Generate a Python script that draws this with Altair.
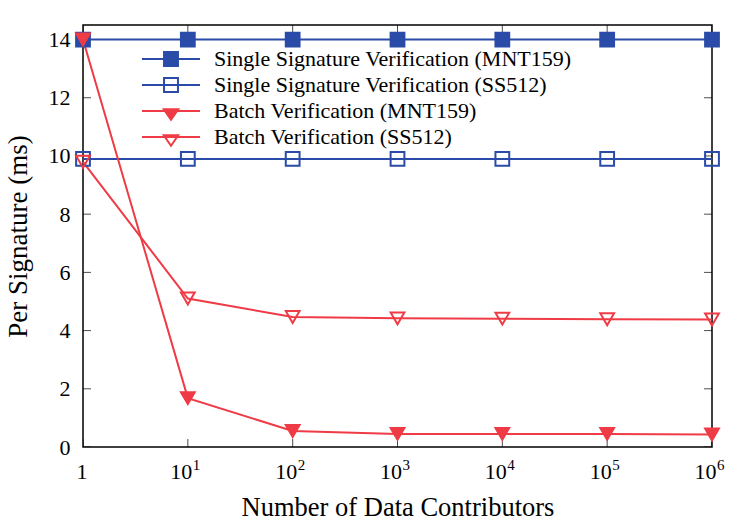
import altair as alt
import pandas as pd

# ---- data ----
x_vals = [1, 10, 100, 1000, 10000, 100000, 1000000]
single_mnt159 = [14.0, 14.0, 14.0, 14.0, 14.0, 14.0, 14.0]
single_ss512 = [9.9, 9.9, 9.9, 9.9, 9.9, 9.9, 9.9]
batch_mnt159 = [14.0, 1.68, 0.55, 0.45, 0.45, 0.45, 0.43]
batch_ss512 = [9.8, 5.1, 4.47, 4.42, 4.41, 4.39, 4.38]
series_names = [
    "Single Signature Verification (MNT159)",
    "Single Signature Verification (SS512)",
    "Batch Verification (MNT159)",
    "Batch Verification (SS512)",
]
y_ticks = [0, 2, 4, 6, 8, 10, 12, 14]
x_ticks = [1, 10, 100, 1000, 10000, 100000, 1000000]
exp_ticks = [10, 100, 1000, 10000, 100000, 1000000]
exp_labels = ["1", "2", "3", "4", "5", "6"]

rows = []
for name, vals in zip(series_names, [single_mnt159, single_ss512, batch_mnt159, batch_ss512]):
    for xv, yv in zip(x_vals, vals):
        rows.append({"series": name, "x": xv, "y": yv})
df = pd.DataFrame(rows)
ytick_df = pd.DataFrame({"v": y_ticks})
xtick_df = pd.DataFrame({"v": x_ticks})
exp_df = pd.DataFrame({"v": exp_ticks, "e": exp_labels})

BLUE = "#2a4ba7"
RED = "#ef3b45"
FONT = "Liberation Serif"
line_colors = [BLUE, BLUE, RED, RED]
fill_colors = [BLUE, "transparent", RED, "transparent"]
plot_shapes = ["square", "square", "triangle-down", "triangle-down"]
SQ = "M-1,0H1M-0.24,-0.24H0.24V0.24H-0.24Z"
TR = "M-1,0H1M-0.25,-0.06H0.25L0,0.3Z"
legend_shapes = [SQ, SQ, TR, TR]

x_scale = alt.Scale(type="log", domain=[1, 1000000])
y_scale = alt.Scale(domain=[0, 14.5], nice=False, zero=False)

x_enc = alt.X(
    "x:Q",
    scale=x_scale,
    axis=alt.Axis(
        values=x_ticks,
        labelExpr="datum.value == 1 ? '1' : '10'",
        title="Number of Data Contributors",
        grid=False, ticks=False, domain=False,
        labelFont=FONT, labelFontSize=22, labelColor="black",
        labelPadding=14, labelFlush=False, labelOverlap=False,
        labelAlign="right", labelOffset=4,
        titleFont=FONT, titleFontSize=26.5, titleFontWeight="normal",
        titleColor="black", titlePadding=12,
    ),
)
y_enc = alt.Y(
    "y:Q",
    scale=y_scale,
    axis=alt.Axis(
        values=y_ticks,
        title="Per Signature (ms)",
        grid=False, ticks=False, domain=False,
        labelFont=FONT, labelFontSize=22, labelColor="black",
        labelPadding=13, labelFlush=False,
        titleFont=FONT, titleFontSize=27, titleFontWeight="normal",
        titleColor="black", titlePadding=16, titleLimit=0,
    ),
)

lines = alt.Chart(df).mark_line(strokeWidth=2).encode(
    x=x_enc,
    y=y_enc,
    color=alt.Color("series:N", scale=alt.Scale(domain=series_names, range=line_colors), legend=None),
    detail="series:N",
)

points = alt.Chart(df).mark_point(size=190, strokeWidth=2, opacity=1).encode(
    x="x:Q",
    y="y:Q",
    shape=alt.Shape("series:N", scale=alt.Scale(domain=series_names, range=plot_shapes), legend=None),
    stroke=alt.Stroke("series:N", scale=alt.Scale(domain=series_names, range=line_colors), legend=None),
    fill=alt.Fill("series:N", scale=alt.Scale(domain=series_names, range=fill_colors), legend=None),
)

leg = alt.Legend(
    title=None, orient="none", legendX=58, legendY=21,
    labelFont=FONT, labelFontSize=22, labelColor="black", labelLimit=0,
    symbolSize=3364, symbolStrokeWidth=2, symbolOpacity=1,
    clipHeight=26, rowPadding=0, labelOffset=13, padding=0,
)
legend_layer = alt.Chart(df).mark_point(opacity=0, strokeWidth=2).encode(
    x="x:Q",
    y="y:Q",
    shape=alt.Shape("series:N", scale=alt.Scale(domain=series_names, range=legend_shapes), legend=leg),
    stroke=alt.Stroke("series:N", scale=alt.Scale(domain=series_names, range=line_colors), legend=leg),
    fill=alt.Fill("series:N", scale=alt.Scale(domain=series_names, range=fill_colors), legend=leg),
)

tick_left = alt.Chart(ytick_df).mark_tick(orient="horizontal", size=16, thickness=1, color="black", clip=True).encode(
    x=alt.datum(1), y="v:Q")
tick_right = alt.Chart(ytick_df).mark_tick(orient="horizontal", size=16, thickness=1, color="black", clip=True).encode(
    x=alt.datum(1000000), y="v:Q")
tick_bottom = alt.Chart(xtick_df).mark_tick(orient="vertical", size=16, thickness=1, color="black", clip=True).encode(
    x="v:Q", y=alt.datum(0))
tick_top = alt.Chart(xtick_df).mark_tick(orient="vertical", size=16, thickness=1, color="black", clip=True).encode(
    x="v:Q", y=alt.datum(14.5))

exponents = alt.Chart(exp_df).mark_text(
    font=FONT, fontSize=15, color="black", align="left", baseline="alphabetic", dx=5, dy=23
).encode(x="v:Q", y=alt.datum(0), text="e:N")

chart = alt.layer(
    tick_left, tick_right, tick_bottom, tick_top, lines, points, legend_layer, exponents
).resolve_scale(
    shape="independent", stroke="independent", fill="independent"
).properties(
    width=629, height=422,
    padding={"left": 83, "top": 25, "right": 38, "bottom": 78},
    autosize="none",
    background="white",
).configure_view(
    stroke="black", strokeWidth=1.5
)

chart.save("out.html", embed_options={"renderer": "svg", "actions": False})
